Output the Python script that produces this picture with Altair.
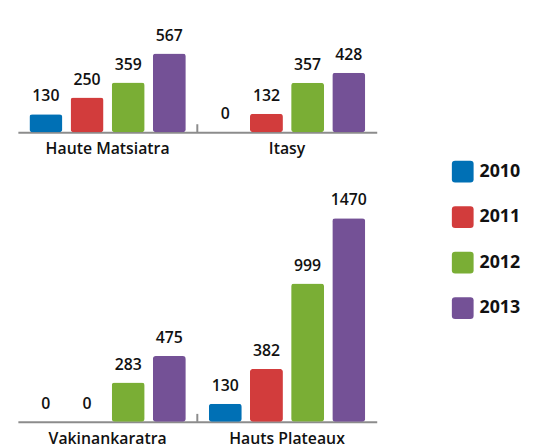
import altair as alt
import pandas as pd

years = ["2010", "2011", "2012", "2013"]
regions_top = ["Haute Matsiatra", "Itasy"]
regions_bottom = ["Vakinankaratra", "Hauts Plateaux"]
haute_matsiatra = [130, 250, 359, 567]
itasy = [0, 132, 357, 428]
vakinankaratra = [0, 0, 283, 475]
hauts_plateaux = [130, 382, 999, 1470]
colors = ["#0070b5", "#d23c3c", "#7aae35", "#745196"]

FONT = "Open Sans"


def make_df(regions, series):
    rows = []
    for reg, vals in zip(regions, series):
        for y, v in zip(years, vals):
            rows.append({"region": reg, "year": y, "value": v})
    return pd.DataFrame(rows)


df_top = make_df(regions_top, [haute_matsiatra, itasy])
df_bottom = make_df(regions_bottom, [vakinankaratra, hauts_plateaux])

rounded_square = ("M-1,-0.7 Q-1,-1 -0.7,-1 L0.7,-1 Q1,-1 1,-0.7 L1,0.7 "
                  "Q1,1 0.7,1 L-0.7,1 Q-1,1 -1,0.7 Z")

legend = alt.Legend(
    title=None, orient="none", legendX=439, legendY=145,
    symbolType=rounded_square, symbolSize=484, symbolStrokeWidth=0,
    symbolOpacity=1, labelFont=FONT, labelFontSize=18, labelFontWeight="bold",
    labelColor="#111111", labelOffset=6, rowPadding=24,
)


def panel(df, regions, height, ymax, show_legend):
    xenc = alt.X(
        "region:N", sort=regions,
        scale=alt.Scale(domain=regions, paddingInner=0, paddingOuter=0),
        axis=alt.Axis(title=None, labelAngle=0, ticks=False, domainColor="#8c8c8c",
                      domainWidth=2, labelFont=FONT, labelFontSize=16,
                      labelFontWeight=600, labelColor="#111111", labelPadding=9,
                      grid=False),
    )
    xoff = alt.XOffset("year:N", sort=years,
                       scale=alt.Scale(domain=years, paddingInner=0.2, paddingOuter=0.28))
    yenc = alt.Y("value:Q", scale=alt.Scale(domain=[0, ymax]), axis=None)
    base = alt.Chart(df).encode(x=xenc, xOffset=xoff, y=yenc)
    bars = base.mark_bar(cornerRadius=3).encode(
        color=alt.Color("year:N", sort=years,
                        scale=alt.Scale(domain=years, range=colors),
                        legend=legend if show_legend else None)
    )
    labels = base.mark_text(baseline="bottom", dy=-10, font=FONT, fontSize=16,
                            fontWeight=600, color="#111111").encode(text="value:Q")
    sep = alt.Chart(df[(df.region == regions[1]) & (df.year == years[0])]).mark_rule(
        color="#8c8c8c", strokeWidth=2
    ).encode(
        x=alt.X("region:N", bandPosition=0, sort=regions),
        y=alt.value(height - 8), y2=alt.value(height),
    )
    return alt.layer(bars, labels, sep).properties(width=363, height=height)


top = panel(df_top, regions_top, 116, 828, True)
bottom = panel(df_bottom, regions_bottom, 250, 1785, False)

chart = alt.vconcat(top, bottom, spacing=18).properties(
    padding={"left": 10, "top": 7, "right": 5, "bottom": 5},
    background="white",
).configure_view(stroke=None)

chart.save("out.html", embed_options={"renderer": "svg", "actions": False})
